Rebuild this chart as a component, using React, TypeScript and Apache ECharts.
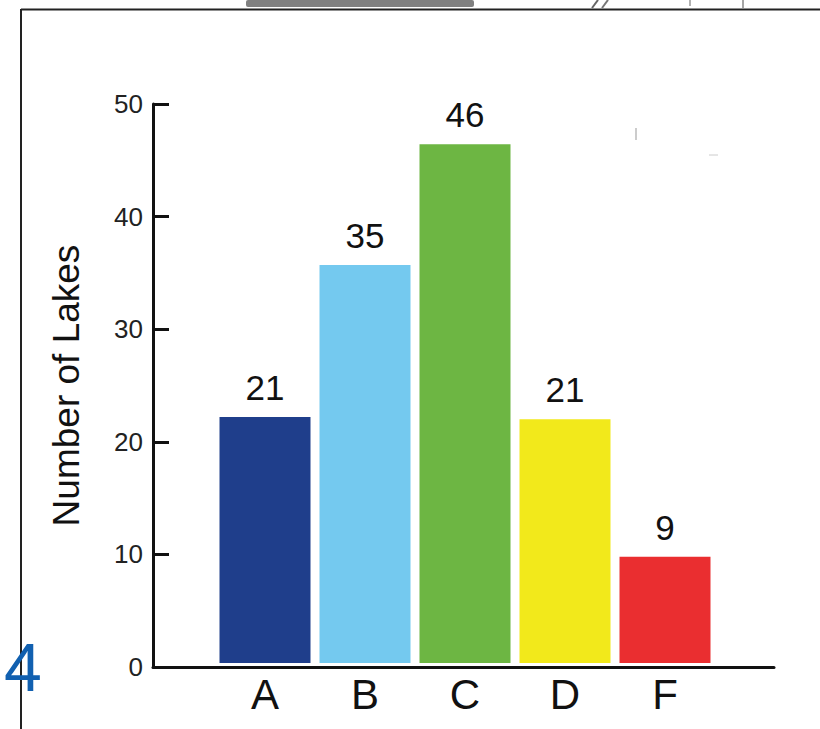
import React, { useEffect, useRef } from "react";
import * as echarts from "echarts";

const categories = ["A", "B", "C", "D", "F"];
// bar heights as drawn in the picture
const barHeights = [22, 35.6, 46.4, 21.8, 9.5];
// value labels printed above the bars
const valueLabels = ["21", "35", "46", "21", "9"];
const barColors = ["#1F3E8B", "#74C9EF", "#6DB643", "#F2E91B", "#EA2E30"];
const yTicks = [0, 10, 20, 30, 40, 50];

const FONT = "'Liberation Sans', Arial, Helvetica, sans-serif";

export default function App() {
  const ref = useRef<HTMLDivElement>(null);
  useEffect(() => {
    if (!ref.current) return;
    const chart = echarts.init(ref.current, null, { renderer: "svg" });
    const option: any = {
      animation: false,
      backgroundColor: "#ffffff",
      grid: [
        { left: 153, right: 46, top: 104, bottom: 62 },
        { left: 215, right: 105, top: 104, bottom: 66 },
      ],
      xAxis: [
        {
          gridIndex: 0,
          type: "value",
          min: 0,
          max: 1,
          axisLine: { show: true, lineStyle: { color: "#111", width: 3 } },
          axisTick: { show: false },
          axisLabel: { show: false },
          splitLine: { show: false },
        },
        {
          gridIndex: 1,
          type: "category",
          data: categories,
          axisLine: { show: false },
          axisTick: { show: false },
          axisLabel: {
            color: "#111",
            fontSize: 42,
            fontFamily: FONT,
            margin: 10,
          },
        },
      ],
      yAxis: [
        {
          gridIndex: 0,
          type: "value",
          min: yTicks[0],
          max: yTicks[yTicks.length - 1],
          interval: 10,
          name: "Number of Lakes",
          nameLocation: "middle",
          nameGap: 68,
          nameTextStyle: { color: "#111", fontSize: 37, fontFamily: FONT },
          axisLine: { show: true, lineStyle: { color: "#111", width: 3 } },
          axisTick: {
            show: true,
            inside: true,
            length: 16,
            lineStyle: { color: "#111", width: 3 },
          },
          axisLabel: {
            color: "#222",
            fontSize: 26,
            fontFamily: FONT,
            margin: 10,
          },
          splitLine: { show: false },
        },
        {
          gridIndex: 1,
          type: "value",
          min: 0,
          max: 50,
          show: false,
          splitLine: { show: false },
        },
      ],
      series: [
        {
          type: "bar",
          xAxisIndex: 1,
          yAxisIndex: 1,
          barWidth: 91,
          data: barHeights.map((v, i) => ({
            value: v,
            itemStyle: { color: barColors[i] },
          })),
          label: {
            show: true,
            position: "top",
            distance: 12,
            color: "#111",
            fontSize: 35,
            fontFamily: FONT,
            formatter: (p: any) => valueLabels[p.dataIndex],
          },
        },
      ],
      graphic: [
        {
          type: "line",
          shape: { x1: 21, y1: 9, x2: 21, y2: 729 },
          style: { stroke: "#222", lineWidth: 2 },
        },
        {
          type: "line",
          shape: { x1: 21, y1: 9.5, x2: 820, y2: 9.5 },
          style: { stroke: "#222", lineWidth: 2 },
        },
        {
          type: "rect",
          shape: { x: 246, y: 0, width: 228, height: 7, r: 2 },
          style: { fill: "#555", opacity: 0.75 },
        },
        {
          type: "line",
          shape: { x1: 592, y1: 8, x2: 598, y2: 0 },
          style: { stroke: "#666", lineWidth: 2 },
        },
        {
          type: "line",
          shape: { x1: 602, y1: 8, x2: 608, y2: 0 },
          style: { stroke: "#777", lineWidth: 2 },
        },
        {
          type: "line",
          shape: { x1: 690, y1: 0, x2: 690, y2: 6 },
          style: { stroke: "#999", lineWidth: 1.5 },
        },
        {
          type: "line",
          shape: { x1: 743, y1: 0, x2: 743, y2: 8 },
          style: { stroke: "#888", lineWidth: 1.5 },
        },
        {
          type: "line",
          shape: { x1: 636, y1: 128, x2: 636, y2: 140 },
          style: { stroke: "#bbb", lineWidth: 1.5 },
        },
        {
          type: "line",
          shape: { x1: 709, y1: 155, x2: 718, y2: 155 },
          style: { stroke: "#ccc", lineWidth: 1 },
        },
        {
          type: "text",
          x: 4,
          y: 633,
          style: {
            text: "4",
            fontSize: 68,
            fontFamily: FONT,
            fill: "#1160B0",
          },
        },
      ],
    };
    chart.setOption(option);
    return () => chart.dispose();
  }, []);
  return (
    <div
      ref={ref}
      style={{ position: "absolute", left: 0, top: 0, width: 820, height: 729 }}
    />
  );
}
